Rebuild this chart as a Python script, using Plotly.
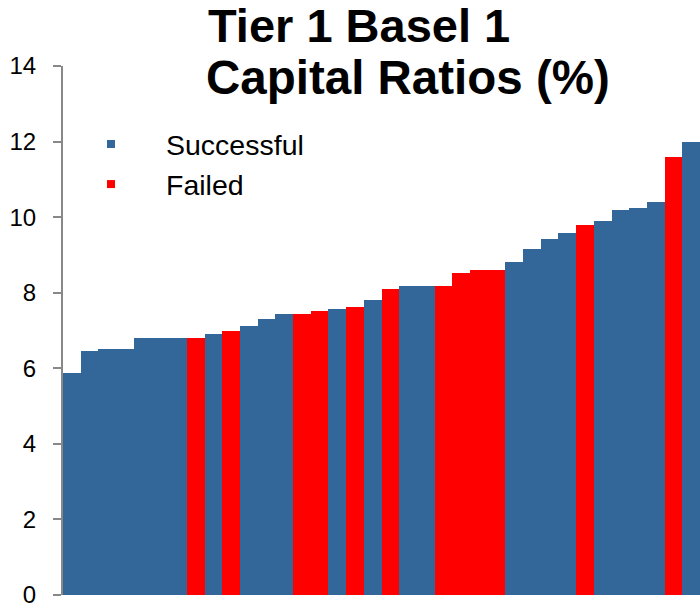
import plotly.graph_objects as go

# Data
bank_index = list(range(1, 37))
ratios = [5.88, 6.45, 6.50, 6.50, 6.79, 6.79, 6.79, 6.79, 6.90, 7.00,
          7.11, 7.30, 7.43, 7.43, 7.51, 7.56, 7.61, 7.80, 8.11, 8.19,
          8.19, 8.19, 8.51, 8.59, 8.59, 8.80, 9.17, 9.41, 9.59, 9.80,
          9.91, 10.20, 10.23, 10.41, 11.60, 12.00]
status = ["S", "S", "S", "S", "S", "S", "S", "F", "S", "F",
          "S", "S", "S", "F", "F", "S", "F", "S", "F", "S",
          "S", "F", "F", "F", "F", "S", "S", "S", "S", "F",
          "S", "S", "S", "S", "F", "S"]
y_ticks = [0, 2, 4, 6, 8, 10, 12, 14]

BLUE = "#336699"
RED = "#FF0000"
FONT = "Liberation Sans, Arial, sans-serif"

succ_x = [x for x, s in zip(bank_index, status) if s == "S"]
succ_y = [v for v, s in zip(ratios, status) if s == "S"]
fail_x = [x for x, s in zip(bank_index, status) if s == "F"]
fail_y = [v for v, s in zip(ratios, status) if s == "F"]

fig = go.Figure()
fig.add_trace(go.Bar(x=succ_x, y=succ_y, marker=dict(color=BLUE, line=dict(width=0)),
                     showlegend=False, name="Successful"))
fig.add_trace(go.Bar(x=fail_x, y=fail_y, marker=dict(color=RED, line=dict(width=0)),
                     showlegend=False, name="Failed"))
# legend entries
fig.add_trace(go.Scatter(x=[None], y=[None], mode="markers", name="Successful",
                         marker=dict(symbol="square", size=8, color=BLUE)))
fig.add_trace(go.Scatter(x=[None], y=[None], mode="markers", name="Failed",
                         marker=dict(symbol="square", size=8, color=RED)))

fig.update_layout(
    width=700, height=605,
    margin=dict(l=63, r=0, t=66, b=10, autoexpand=False),
    paper_bgcolor="white", plot_bgcolor="white",
    barmode="overlay", bargap=0,
    font=dict(family=FONT, color="black"),
    showlegend=True,
    legend=dict(x=(56 - 63) / 637, y=(595 - 119) / 529, xanchor="left", yanchor="top",
                font=dict(size=28.5, family=FONT, color="black"),
                itemwidth=100, bgcolor="rgba(0,0,0,0)", tracegroupgap=0),
    xaxis=dict(range=[0.5, 36.5], showticklabels=False, showline=False,
               showgrid=False, zeroline=False, ticks="", automargin=False),
    yaxis=dict(range=[0, 14], tickvals=y_ticks, showgrid=False, zeroline=False,
               showline=True, linecolor="#888888", linewidth=2,
               ticks="outside", ticklen=8, tickcolor="#888888", tickwidth=2,
               tickfont=dict(size=24, family=FONT, color="black"),
               ticklabelstandoff=12, ticklabeloverflow="allow", automargin=False),
)

fig.add_annotation(text="<b>Tier 1 Basel 1</b>", xref="paper", yref="paper",
                   x=(206 - 63) / 637, y=(595 - 25.5) / 529, xanchor="left", yanchor="middle",
                   showarrow=False, font=dict(size=47, family=FONT, color="black"))
fig.add_annotation(text="<b>Capital Ratios (%)</b>", xref="paper", yref="paper",
                   x=(204 - 63) / 637, y=(595 - 77.5) / 529, xanchor="left", yanchor="middle",
                   showarrow=False, font=dict(size=47.5, family=FONT, color="black"))

fig.write_html("out.html")
